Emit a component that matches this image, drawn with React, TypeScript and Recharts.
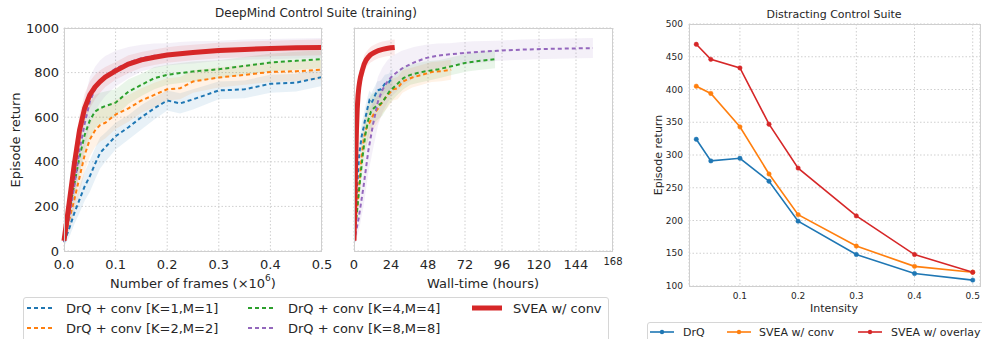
import React from 'react';
import { ComposedChart, Line, Area, XAxis, YAxis, CartesianGrid } from 'recharts';

// training curves, x in millions of frames
const frames = [0, 0.01, 0.02, 0.03, 0.04, 0.05, 0.06, 0.07, 0.08, 0.1, 0.125, 0.15, 0.175, 0.2, 0.225, 0.25, 0.3, 0.35, 0.4, 0.45, 0.5];
const drqK1 = [40, 100, 170, 230, 290, 335, 390, 440, 465, 515, 555, 600, 640, 675, 662, 680, 720, 725, 750, 755, 780];
const drqK2 = [45, 140, 230, 330, 430, 500, 540, 565, 575, 612, 640, 675, 700, 725, 730, 760, 778, 790, 803, 806, 813];
const drqK4 = [50, 170, 300, 420, 520, 585, 625, 640, 650, 665, 715, 745, 775, 790, 798, 805, 815, 830, 845, 853, 860];
const drqK8 = [40, 150, 290, 450, 570, 670, 725, 760, 785, 818, 845, 865, 876, 882, 887, 891, 898, 903, 906, 908, 910];
const sveaConv = [46, 215, 390, 540, 640, 700, 735, 760, 780, 808, 838, 857, 869, 879, 885, 890, 899, 904, 908, 911, 913];

// half-width of the shaded bands
const spreadK1 = [20, 40, 50, 60, 65, 70, 70, 70, 65, 60, 55, 55, 50, 45, 45, 45, 40, 40, 40, 40, 40];
const spreadK2 = [20, 45, 60, 70, 75, 75, 75, 75, 70, 65, 60, 55, 55, 50, 50, 50, 45, 45, 45, 45, 45];
const spreadK4 = [20, 50, 65, 75, 80, 80, 75, 70, 65, 60, 55, 50, 50, 45, 45, 45, 40, 40, 40, 40, 40];
const spreadK8 = [20, 60, 90, 100, 110, 110, 100, 95, 90, 80, 70, 60, 55, 50, 50, 50, 45, 45, 45, 45, 45];
const spreadSvea = [20, 60, 70, 70, 65, 60, 55, 50, 45, 40, 40, 35, 35, 35, 35, 35, 35, 35, 35, 35, 35];

// wall-clock hours needed for 0.5M frames
const wallHours = [25, 63, 91.5, 155, 26.4];
const trainLabels = ['DrQ + conv [K=1,M=1]', 'DrQ + conv [K=2,M=2]', 'DrQ + conv [K=4,M=4]', 'DrQ + conv [K=8,M=8]', 'SVEA w/ conv'];

const frameTicks = [0, 0.1, 0.2, 0.3, 0.4, 0.5];
const hourTicks = [0, 24, 48, 72, 96, 120, 144, 168];
const returnTicks = [0, 200, 400, 600, 800, 1000];

// distracting control suite
const intensity = [0.025, 0.05, 0.1, 0.15, 0.2, 0.3, 0.4, 0.5];
const drqDistract = [324, 291, 295, 260, 199, 148, 119, 109];
const sveaConvDistract = [405, 394, 343, 271, 209, 161, 130, 121];
const sveaOverlayDistract = [469, 446, 433, 347, 280, 207, 148, 121];
const distractLabels = ['DrQ', 'SVEA w/ conv', 'SVEA w/ overlay'];
const intensityTicks = [0.1, 0.2, 0.3, 0.4, 0.5];
const distractTicks = [100, 150, 200, 250, 300, 350, 400, 450, 500];

const FONT = '"DejaVu Sans", sans-serif';
const INK = '#262626';
const GRID = '#cfcfcf';
const trainColors = ['#1f77b4', '#ff7f0e', '#2ca02c', '#9467bd', '#d62728'];
const distractColors = ['#1f77b4', '#ff7f0e', '#d62728'];

const methods = [
  { key: 'k1', values: drqK1, spread: spreadK1 },
  { key: 'k2', values: drqK2, spread: spreadK2 },
  { key: 'k4', values: drqK4, spread: spreadK4 },
  { key: 'k8', values: drqK8, spread: spreadK8 },
  { key: 'svea', values: sveaConv, spread: spreadSvea },
].map((m, i) => ({ ...m, label: trainLabels[i], hours: wallHours[i], color: trainColors[i], solid: i === 4 }));

const band = (m: any, i: number) => [Math.max(0, m.values[i] - m.spread[i]), Math.min(1000, m.values[i] + m.spread[i])];

const frameRows = frames.map((f, i) => {
  const row: any = { x: f };
  methods.forEach((m) => {
    row[m.key] = m.values[i];
    row[m.key + 'Band'] = band(m, i);
  });
  return row;
});

const timeRows = methods.map((m) =>
  frames.map((f, i) => ({ t: (f / 0.5) * m.hours, y: m.values[i], band: band(m, i) }))
);

const distractRows = intensity.map((x, i) => ({
  x,
  drq: drqDistract[i],
  conv: sveaConvDistract[i],
  overlay: sveaOverlayDistract[i],
}));
const distractKeys = ['drq', 'conv', 'overlay'];

const tick13 = { fill: INK, fontSize: 13, fontFamily: FONT };
const tick9 = { fill: INK, fontSize: 9, fontFamily: FONT };

const txt = (s: React.CSSProperties): React.CSSProperties => ({
  position: 'absolute',
  fontFamily: FONT,
  color: INK,
  whiteSpace: 'nowrap',
  lineHeight: 1,
  ...s,
});

const Frame = ({ l, t, w, h }: { l: number; t: number; w: number; h: number }) => (
  <div style={{ position: 'absolute', left: l, top: t, width: w, height: h, border: `1.3px solid ${GRID}`, boxSizing: 'border-box', pointerEvents: 'none' }} />
);

const HourTick = (props: any) => {
  const { x, y, payload } = props;
  const small = payload.value === 168;
  return (
    <text x={x} y={y} dy={small ? '0.5em' : '0.71em'} textAnchor="middle" fill={INK} fontSize={small ? 10 : 13} fontFamily={FONT}>
      {payload.value}
    </text>
  );
};

const Swatch = ({ color, solid, marker, width }: { color: string; solid?: boolean; marker?: boolean; width: number }) => (
  <svg width={width} height={10} style={{ display: 'block' }}>
    <line x1={0} y1={5} x2={width} y2={5} stroke={color} strokeWidth={solid ? 5 : marker ? 1.6 : 2}
      strokeDasharray={solid || marker ? undefined : '4 3'} strokeLinecap={solid ? 'round' : 'butt'} />
    {marker && <circle cx={width / 2} cy={5} r={2.2} fill={color} />}
  </svg>
);

export default function App() {
  const legendCols = [
    { line: 27, text: 66 },
    { line: 27, text: 66 },
    { line: 248, text: 288 },
    { line: 248, text: 288 },
    { line: 472, text: 513 },
  ];
  const legendRows = [308, 328, 308, 328, 308];
  const rightLegend = [
    { line: 650, text: 683 },
    { line: 727, text: 759 },
    { line: 858, text: 891 },
  ];

  return (
    <div style={{ position: 'absolute', left: 0, top: 0, width: 982, height: 339, overflow: 'hidden', background: '#fff' }}>
      {/* frames panel */}
      <div style={{ position: 'absolute', left: 0, top: 0 }}>
        <ComposedChart width={340} height={300} data={frameRows} margin={{ top: 28, right: 18, bottom: 0, left: 0 }}>
          <CartesianGrid stroke={GRID} strokeDasharray="1.5 2" />
          <XAxis dataKey="x" type="number" domain={[0, 0.5]} ticks={frameTicks} tickFormatter={(v) => v.toFixed(1)}
            height={49} tickSize={0} tickMargin={9} axisLine={false} tick={tick13} interval={0} />
          <YAxis type="number" domain={[0, 1000]} ticks={returnTicks} width={64} tickSize={0} tickMargin={5}
            axisLine={false} tick={tick13} interval={0} />
          {methods.map((m) => (
            <Area key={m.key + 'b'} dataKey={m.key + 'Band'} fill={m.color} fillOpacity={0.1} stroke="none" isAnimationActive={false} />
          ))}
          {methods.map((m) => (
            <Line key={m.key} dataKey={m.key} stroke={m.color} strokeWidth={m.solid ? 5 : 2}
              strokeDasharray={m.solid ? undefined : '4 3'} dot={false} isAnimationActive={false} />
          ))}
        </ComposedChart>
      </div>

      {/* wall-time panel */}
      <div style={{ position: 'absolute', left: 330, top: 0 }}>
        <ComposedChart width={300} height={300} margin={{ top: 28, right: 17, bottom: 0, left: 0 }}>
          <CartesianGrid stroke={GRID} strokeDasharray="1.5 2" />
          <XAxis dataKey="t" type="number" domain={[0, 168]} ticks={hourTicks} allowDataOverflow
            height={49} tickSize={0} tickMargin={9} axisLine={false} tick={<HourTick />} interval={0} />
          <YAxis type="number" domain={[0, 1000]} ticks={returnTicks} width={24} tickSize={0}
            axisLine={false} tick={false} />
          {methods.map((m, i) => (
            <Area key={m.key + 'b'} data={timeRows[i]} dataKey="band" fill={m.color} fillOpacity={0.1} stroke="none" isAnimationActive={false} />
          ))}
          {methods.map((m, i) => (
            <Line key={m.key} data={timeRows[i]} dataKey="y" stroke={m.color} strokeWidth={m.solid ? 5 : 2}
              strokeDasharray={m.solid ? undefined : '4 3'} dot={false} isAnimationActive={false} />
          ))}
        </ComposedChart>
      </div>

      {/* distracting panel */}
      <div style={{ position: 'absolute', left: 630, top: 0 }}>
        <ComposedChart width={352} height={339} data={distractRows} margin={{ top: 24, right: 2, bottom: 0, left: 0 }}>
          <CartesianGrid stroke={GRID} strokeDasharray="1.5 2" />
          <XAxis dataKey="x" type="number" domain={[0.0125, 0.5125]} ticks={intensityTicks} allowDataOverflow
            tickFormatter={(v) => v.toFixed(1)} height={53} tickSize={0} tickMargin={7} axisLine={false} tick={tick9} interval={0} />
          <YAxis type="number" domain={[100, 500]} ticks={distractTicks} width={59} tickSize={0} tickMargin={6}
            axisLine={false} tick={tick9} interval={0} />
          {distractKeys.map((k, i) => (
            <Line key={k} dataKey={k} stroke={distractColors[i]} strokeWidth={1.6}
              dot={{ r: 2.2, fill: distractColors[i], stroke: distractColors[i], strokeWidth: 0.5 }} isAnimationActive={false} />
          ))}
        </ComposedChart>
      </div>

      <Frame l={64} t={28} w={258} h={224} />
      <Frame l={354} t={28} w={259} h={224} />
      <Frame l={689} t={24} w={292} h={263} />

      {/* titles and axis labels */}
      <div style={txt({ left: 316, top: 13, fontSize: 12, transform: 'translate(-50%, -50%)' })}>DeepMind Control Suite (training)</div>
      <div style={txt({ left: 834, top: 14, fontSize: 11, transform: 'translate(-50%, -50%)' })}>Distracting Control Suite</div>
      <div style={txt({ left: 15, top: 140, fontSize: 13, transform: 'translate(-50%, -50%) rotate(-90deg)' })}>Episode return</div>
      <div style={txt({ left: 658, top: 155, fontSize: 11, transform: 'translate(-50%, -50%) rotate(-90deg)' })}>Episode return</div>
      <div style={txt({ left: 193, top: 283, fontSize: 13, transform: 'translate(-50%, -50%)' })}>
        Number of frames (×10<sup style={{ fontSize: 9, verticalAlign: 'top', position: 'relative', top: -3 }}>6</sup>)
      </div>
      <div style={txt({ left: 483, top: 283, fontSize: 13, transform: 'translate(-50%, -50%)' })}>Wall-time (hours)</div>
      <div style={txt({ left: 834, top: 308, fontSize: 11, transform: 'translate(-50%, -50%)' })}>Intensity</div>

      {/* legends */}
      <div style={{ position: 'absolute', left: 23, top: 297, width: 586, height: 60, border: '1px solid #d6d6d6', borderRadius: 3, boxSizing: 'border-box' }} />
      {methods.map((m, i) => (
        <React.Fragment key={m.key + 'lg'}>
          <div style={{ position: 'absolute', left: legendCols[i].line, top: legendRows[i] - 5 }}>
            <Swatch color={m.color} solid={m.solid} width={m.solid ? 30 : 28} />
          </div>
          <div style={txt({ left: legendCols[i].text, top: legendRows[i], fontSize: 13, transform: 'translateY(-50%)' })}>{m.label}</div>
        </React.Fragment>
      ))}

      <div style={{ position: 'absolute', left: 647, top: 322, width: 360, height: 40, border: '1px solid #d6d6d6', borderRadius: 3, boxSizing: 'border-box' }} />
      {distractLabels.map((label, i) => (
        <React.Fragment key={label}>
          <div style={{ position: 'absolute', left: rightLegend[i].line, top: 327 }}>
            <Swatch color={distractColors[i]} marker width={24} />
          </div>
          <div style={txt({ left: rightLegend[i].text, top: 332, fontSize: 11, transform: 'translateY(-50%)' })}>{label}</div>
        </React.Fragment>
      ))}
    </div>
  );
}
